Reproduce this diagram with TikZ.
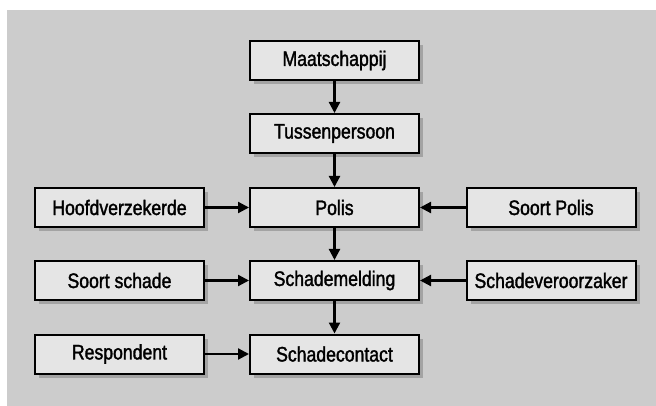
\documentclass[tikz,border=0pt]{standalone}
\usepackage{fontspec}
\setmainfont{Liberation Sans}[FakeStretch=0.84,FakeBold=1.6]
\usepackage{tikz}
\usetikzlibrary{arrows.meta,shadows}

\begin{document}
\begin{tikzpicture}[
x=1pt,y=-1pt,
tabel/.style={%
draw,
line width=2pt,
fill=black!10,
minimum width=169pt,
minimum height=39pt,
inner sep=0pt,
font=\fontsize{21}{23}\selectfont,
drop shadow={shadow xshift=4pt,shadow yshift=-4pt,fill=black,opacity=0.2}
},
pijl/.style={%
line width=2.2pt,
-{Triangle[length=11pt,width=11pt]}
}
]
\useasboundingbox(0,0)rectangle(656,406);
\fill[black!20](7,10)rectangle(656,406);
%% Middle column
\node[tabel]at(334.5,60.5)(maat){Maatschappij};
\node[tabel]at(334.5,133.5)(tussen){Tussenpersoon};
\node[tabel]at(334.5,207.5)(polis){Polis};
\node[tabel]at(334.5,280.5)(melding){Schademelding};
\node[tabel]at(334.5,354)(contact){Schadecontact};
\draw[pijl](maat)--(tussen);
\draw[pijl](tussen)--(polis);
\draw[pijl](polis)--(melding);
\draw[pijl](melding)--(contact);
%% Left column
\node[tabel]at(119.5,207.5)(hoofd){Hoofdverzekerde};
\node[tabel]at(119.5,280.5)(sschade){Soort schade};
\node[tabel]at(119.5,354)(resp){Respondent};
\draw[pijl](hoofd)--(polis);
\draw[pijl](sschade)--(melding);
\draw[pijl](resp)--(contact);
%% Right column
\node[tabel]at(551,207.5)(spolis){Soort Polis};
\node[tabel]at(551,280.5)(veroorz){Schadeveroorzaker};
\draw[pijl](spolis)--(polis);
\draw[pijl](veroorz)--(melding);
\end{tikzpicture}
\end{document}
